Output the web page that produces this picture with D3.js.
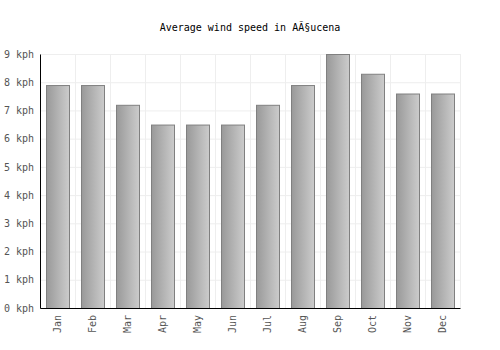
<!DOCTYPE html>
<meta charset="utf-8">
<style>
body { margin: 0; background: #fff; }
text { font-family: "DejaVu Sans Mono", monospace; }
.grid line { stroke: #eeeeee; }
.grid path { display: none; }
</style>
<svg width="500" height="350"></svg>
<script src="https://d3js.org/d3.v7.min.js"></script>
<script>
// data
var months = ["Jan", "Feb", "Mar", "Apr", "May", "Jun", "Jul", "Aug", "Sep", "Oct", "Nov", "Dec"];
var speeds = [7.9, 7.9, 7.2, 6.5, 6.5, 6.5, 7.2, 7.9, 9.0, 8.3, 7.6, 7.6];
var yTicks = [0, 1, 2, 3, 4, 5, 6, 7, 8, 9];
var title = "Average wind speed in AÃ§ucena";

var svg = d3.select("svg"),
    margin = {top: 54, right: 40, bottom: 42, left: 40},
    width = +svg.attr("width") - margin.left - margin.right,
    height = +svg.attr("height") - margin.top - margin.bottom;

var x = d3.scaleBand().domain(months).range([0, width]).paddingInner(0.34).paddingOuter(0.17),
    y = d3.scaleLinear().domain([0, 9]).range([height, 0]);

var defs = svg.append("defs");
var grad = defs.append("linearGradient").attr("id", "barGrad")
    .attr("x1", "0%").attr("x2", "100%").attr("y1", "0%").attr("y2", "0%");
grad.append("stop").attr("offset", "0%").attr("stop-color", "#999999");
grad.append("stop").attr("offset", "100%").attr("stop-color", "#cccccc");

svg.append("text")
    .attr("x", 250).attr("y", 31)
    .attr("text-anchor", "middle")
    .attr("font-size", "10px")
    .attr("fill", "#000")
    .text(title);

var g = svg.append("g")
    .attr("transform", "translate(" + margin.left + "," + margin.top + ")");

// horizontal grid
g.append("g")
    .attr("class", "grid")
    .call(d3.axisLeft(y).tickValues(yTicks).tickSize(-width).tickFormat(""));

// vertical grid at band edges
var step = x.step();
g.append("g").attr("class", "grid")
    .selectAll("line")
    .data(d3.range(months.length + 1))
    .enter().append("line")
    .attr("x1", function(i) { return Math.round(i * step) + 0.5; })
    .attr("x2", function(i) { return Math.round(i * step) + 0.5; })
    .attr("y1", 0).attr("y2", height);

// bars
g.selectAll(".bar")
    .data(speeds)
    .enter().append("rect")
    .attr("class", "bar")
    .attr("x", function(d, i) { return Math.round(x(months[i])) + 0.5; })
    .attr("y", function(d) { return y(d) + 0.5; })
    .attr("width", Math.round(x.bandwidth()))
    .attr("height", function(d) { return height - y(d); })
    .attr("fill", "url(#barGrad)")
    .attr("stroke", "#808080")
    .attr("stroke-width", 1);

// y axis
var yAxis = g.append("g")
    .call(d3.axisLeft(y).tickValues(yTicks).tickSize(0).tickPadding(6)
        .tickFormat(function(d) { return d + " kph"; }));
yAxis.select(".domain").attr("stroke", "#000");
yAxis.selectAll("text").attr("font-size", "10px").attr("fill", "#555")
    .style("font-family", "'DejaVu Sans Mono', monospace");

// x axis
var xAxis = g.append("g")
    .attr("transform", "translate(0," + height + ")")
    .call(d3.axisBottom(x).tickSize(0).tickPadding(0));
xAxis.select(".domain").attr("stroke", "#000");
xAxis.selectAll("text")
    .attr("font-size", "10px").attr("fill", "#555")
    .style("font-family", "'DejaVu Sans Mono', monospace")
    .attr("transform", "rotate(-90)")
    .attr("text-anchor", "end")
    .attr("x", -7).attr("y", 0).attr("dy", "0.35em");
</script>
